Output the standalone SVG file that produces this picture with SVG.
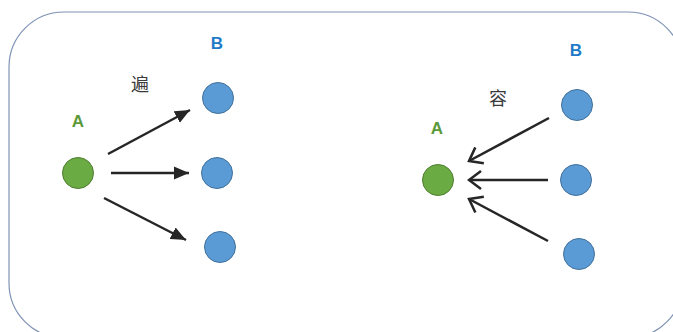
<svg xmlns="http://www.w3.org/2000/svg" width="673" height="332" viewBox="0 0 673 332">
<style>
.frame{fill:none;stroke:#7f93b5;stroke-width:1.2}
.g{fill:#6aab43;stroke:#507e32;stroke-width:1}
.b{fill:#5b9bd5;stroke:#41719c;stroke-width:1}
.la{font-family:"Liberation Sans",Arial,sans-serif;font-weight:bold;font-size:17px;fill:#5b9a3a;text-anchor:middle}
.lb{font-family:"Liberation Sans",Arial,sans-serif;font-weight:bold;font-size:17px;fill:#1f7bc8;text-anchor:middle}
.cj{font-family:"Noto Sans CJK SC",sans-serif;font-size:18px;fill:#3a3a3a;text-anchor:middle}
.e{stroke:#262626;stroke-width:2.5;fill:none}
</style>
<defs>
<marker id="fill" markerWidth="16" markerHeight="14" refX="15" refY="7" orient="auto" markerUnits="userSpaceOnUse" viewBox="0 0 16 14">
<path d="M0,0.5 L15,7 L0,13.5 z" fill="#262626"/>
</marker>
<marker id="open" markerWidth="16" markerHeight="20" refX="14" refY="10" orient="auto" markerUnits="userSpaceOnUse" viewBox="0 0 16 20">
<path d="M2,1 L14,10 L2,19" fill="none" stroke="#262626" stroke-width="2.5"/>
</marker>
</defs>
<rect class="frame" x="9" y="12" width="674" height="326" rx="55" ry="55"/>
<g id="connectors">
<line class="e" x1="108" y1="154" x2="190" y2="110" marker-end="url(#fill)"/>
<line class="e" x1="111" y1="173" x2="189" y2="173" marker-end="url(#fill)"/>
<line class="e" x1="104" y1="198" x2="186" y2="240" marker-end="url(#fill)"/>
<line class="e" x1="549" y1="118" x2="469" y2="161" marker-end="url(#open)"/>
<line class="e" x1="548" y1="180" x2="469" y2="180" marker-end="url(#open)"/>
<line class="e" x1="548" y1="241" x2="469" y2="199" marker-end="url(#open)"/>
</g>
<g id="label-bian"><text class="cj" x="140" y="91">遍</text></g>
<g id="label-rong"><text class="cj" x="498" y="105">容</text></g>
<g id="left-A"><text class="la" x="78" y="127">A</text><circle class="g" cx="78" cy="173" r="15.5"/></g>
<g id="left-B-label"><text class="lb" x="217" y="49">B</text></g>
<g id="left-B1"><circle class="b" cx="218" cy="98" r="15.5"/></g>
<g id="left-B2"><circle class="b" cx="217" cy="173" r="15.5"/></g>
<g id="left-B3"><circle class="b" cx="220" cy="247" r="15.5"/></g>
<g id="right-A"><text class="la" x="437" y="134">A</text><circle class="g" cx="438" cy="180" r="15.5"/></g>
<g id="right-B-label"><text class="lb" x="576" y="56">B</text></g>
<g id="right-B1"><circle class="b" cx="577" cy="105" r="15.5"/></g>
<g id="right-B2"><circle class="b" cx="576" cy="180" r="15.5"/></g>
<g id="right-B3"><circle class="b" cx="579" cy="254" r="15.5"/></g>
</svg>
